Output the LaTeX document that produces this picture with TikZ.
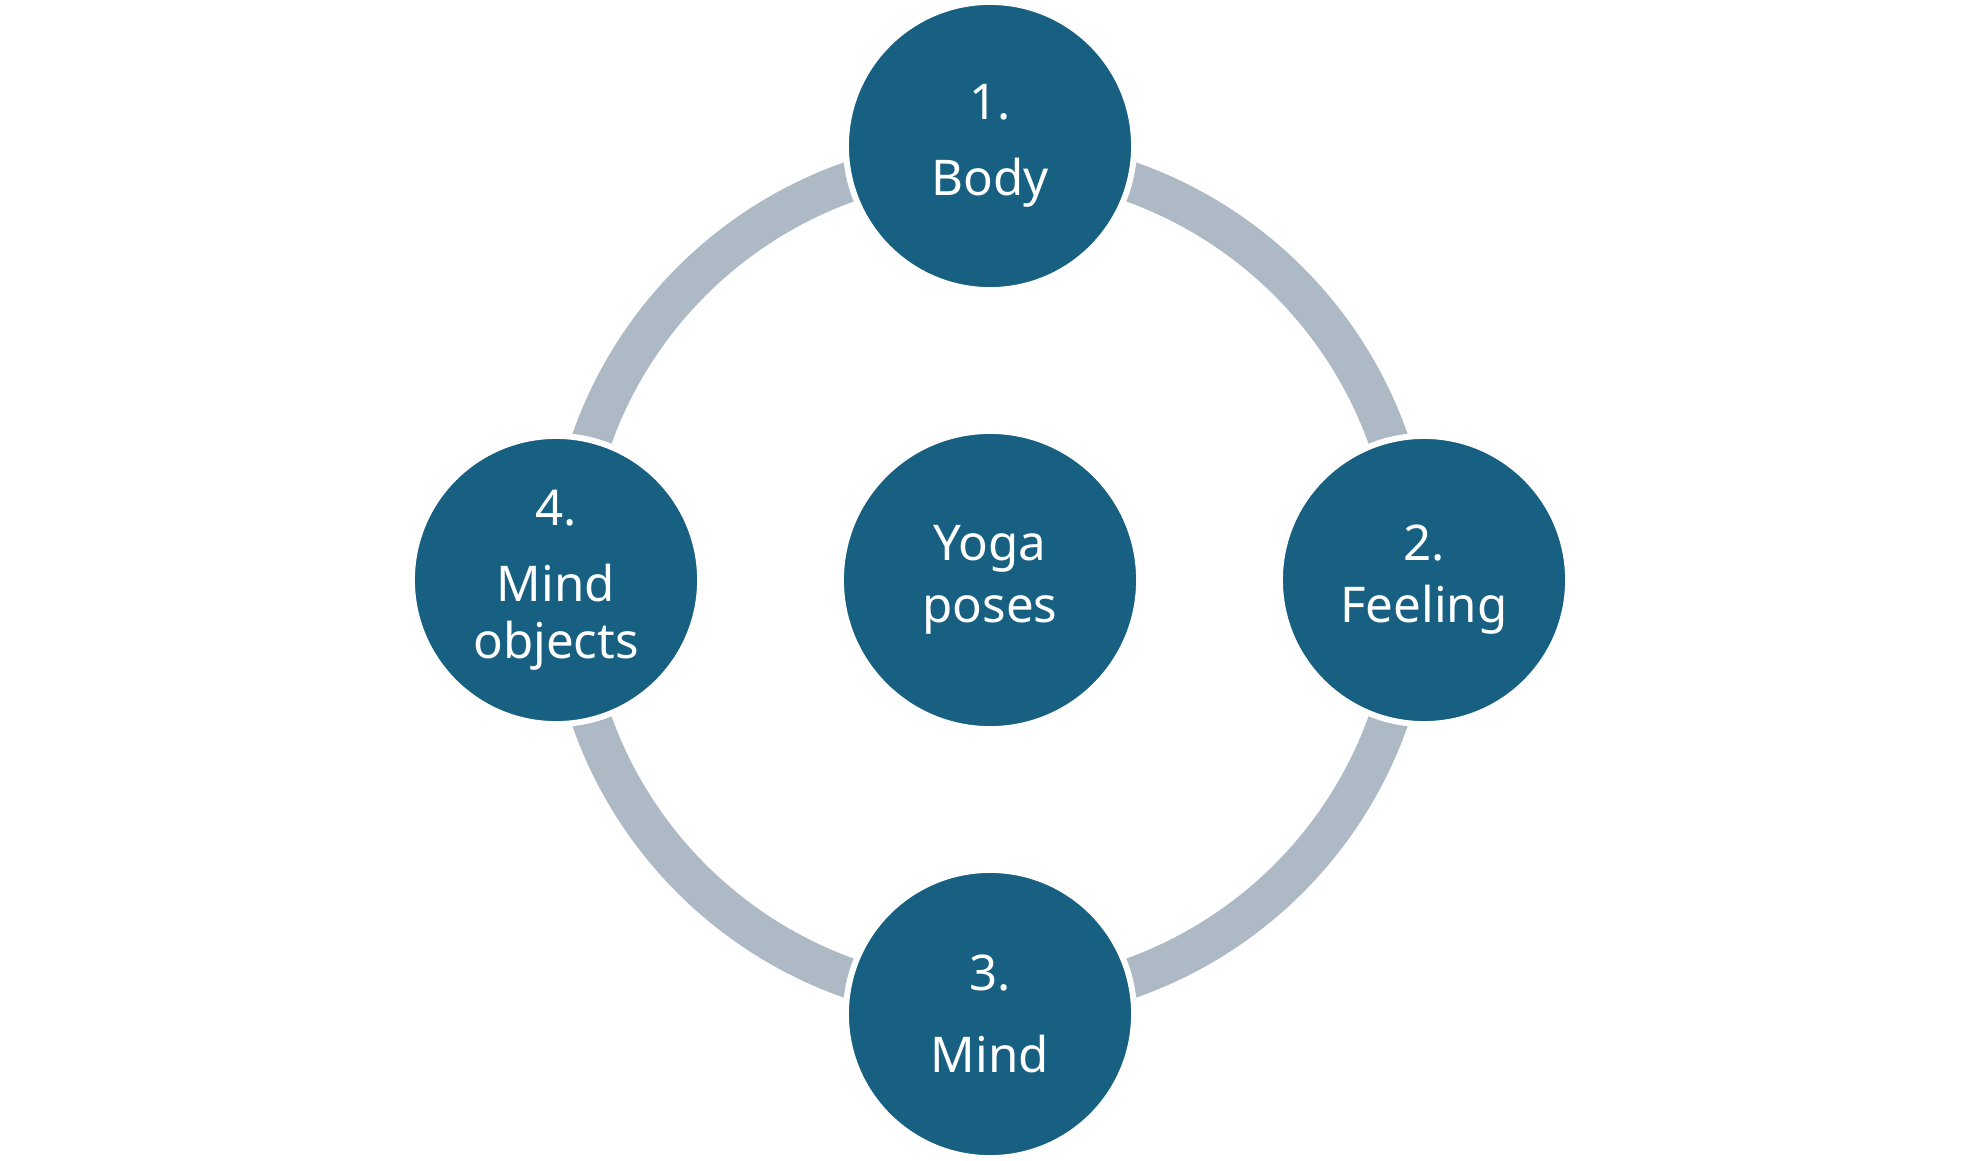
\documentclass[tikz,border=0pt]{standalone}
\usepackage{fontspec}
\setmainfont{Noto Sans}
\definecolor{discblue}{RGB}{23,96,130}
\definecolor{ringgray}{RGB}{173,185,197}
\begin{document}
\begin{tikzpicture}[x=0.01cm,y=-0.01cm,
disc/.style={circle,fill=discblue,draw=white,line width=1.7pt,inner sep=0pt,
  minimum size=2.88cm,align=center,text=white,font=\fontsize{14}{16.8}\selectfont},
ring/.style={draw=ringgray,line width=11.4pt}]
\useasboundingbox (0,0) rectangle (1980,1160);
\coordinate (c) at (990,580);
\draw[ring] (c) circle[radius=4.22cm];
\node[disc,minimum size=2.98cm] (yoga) at (c) {Yoga\\[0.8pt]poses};
\node[disc] (body) at (990,146) {1.\\[4.8pt]Body};
\node[disc] (feel) at (1424,580) {2.\\[0.8pt]Feeling};
\node[disc] (mind) at (990,1014) {3.\\[6.5pt]Mind};
\node[disc] (objs) at (556,580) {4.\\[4.8pt]Mind\\[-0.6pt]objects};
\end{tikzpicture}
\end{document}
